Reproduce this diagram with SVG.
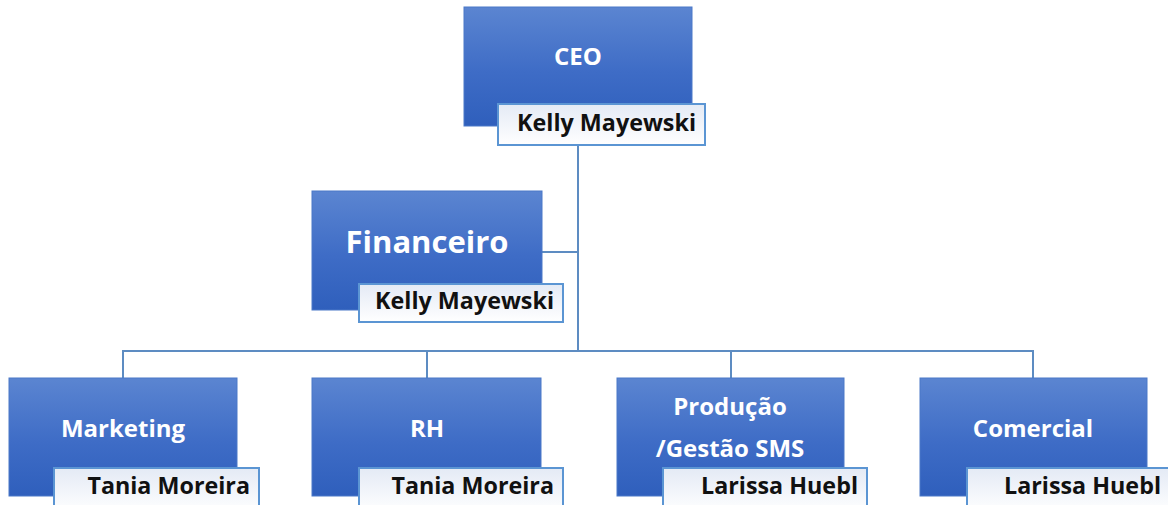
<svg xmlns="http://www.w3.org/2000/svg" width="1168" height="505" viewBox="0 0 1168 505">
<defs>
<linearGradient id="gBlue" x1="0" y1="0" x2="0" y2="1">
<stop offset="0" stop-color="#5b85d1"/>
<stop offset="0.55" stop-color="#3e6cc6"/>
<stop offset="1" stop-color="#2f5fbc"/>
</linearGradient>
<linearGradient id="gName" x1="0" y1="0" x2="0" y2="1">
<stop offset="0" stop-color="#e4eaf5"/>
<stop offset="1" stop-color="#ffffff"/>
</linearGradient>
</defs>
<style>
.box{fill:url(#gBlue);stroke:#4a78c8;stroke-width:1}
.nb{fill:url(#gName);stroke:#5b95d3;stroke-width:2}
.t{font-family:"Open Sans","Liberation Sans",sans-serif;font-weight:bold;fill:#ffffff;text-anchor:middle;font-size:24px}
.n{font-family:"Open Sans","Liberation Sans",sans-serif;font-weight:bold;fill:#111111;text-anchor:end;font-size:23.3px}
.c{fill:none;stroke:#5d8cc2;stroke-width:2}
</style>
<rect width="1168" height="505" fill="#ffffff"/>
<g id="connectors">
<path class="c" d="M578 145 V351"/>
<path class="c" d="M542 252 H578"/>
<path class="c" d="M123 378 V351 H1033 V378"/>
<path class="c" d="M427 351 V378"/>
<path class="c" d="M731 351 V378"/>
</g>
<g id="ceo">
<rect class="box" x="464" y="7" width="228" height="119"/>
<text class="t" x="578" y="65">CEO</text>
<rect class="nb" x="498" y="104" width="207" height="41"/>
<text class="n" x="696" y="131">Kelly Mayewski</text>
</g>
<g id="financeiro">
<rect class="box" x="312" y="191" width="230" height="119"/>
<text class="t" x="427" y="253" style="font-size:31px">Financeiro</text>
<rect class="nb" x="359" y="284" width="204" height="38"/>
<text class="n" x="554" y="309">Kelly Mayewski</text>
</g>
<g id="marketing">
<rect class="box" x="9" y="378" width="228" height="118"/>
<text class="t" x="123" y="437">Marketing</text>
<rect class="nb" x="54" y="468" width="205" height="45"/>
<text class="n" x="250" y="494">Tania Moreira</text>
</g>
<g id="rh">
<rect class="box" x="312" y="378" width="229" height="118"/>
<text class="t" x="427" y="437">RH</text>
<rect class="nb" x="359" y="468" width="204" height="45"/>
<text class="n" x="554" y="494">Tania Moreira</text>
</g>
<g id="producao">
<rect class="box" x="617" y="378" width="227" height="118"/>
<text class="t" x="730" y="415">Produção</text>
<text class="t" x="730" y="457">/Gestão SMS</text>
<rect class="nb" x="663" y="468" width="204" height="45"/>
<text class="n" x="858" y="494">Larissa Huebl</text>
</g>
<g id="comercial">
<rect class="box" x="920" y="378" width="227" height="118"/>
<text class="t" x="1033" y="437">Comercial</text>
<rect class="nb" x="967" y="468" width="204" height="45"/>
<text class="n" x="1161" y="494">Larissa Huebl</text>
</g>
</svg>
